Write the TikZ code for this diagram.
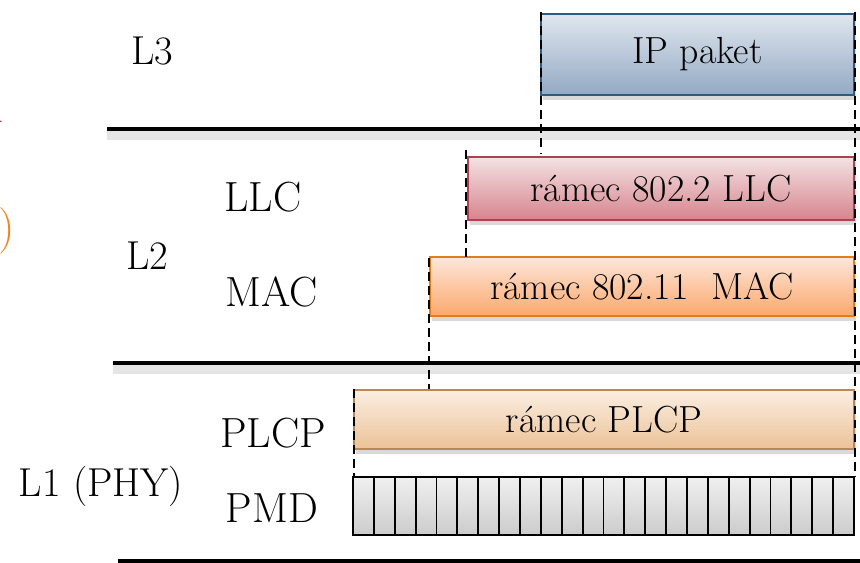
\documentclass[tikz,border=0pt]{standalone}
\usepackage{tikz}
\usetikzlibrary{shadows}
\usetikzlibrary{positioning}
\definecolor{ipTop}{HTML}{E0E6EE}
\definecolor{ipBot}{HTML}{93A9C4}
\definecolor{ipLine}{HTML}{2F5B80}
\definecolor{llcTop}{HTML}{F3E2E4}
\definecolor{llcBot}{HTML}{D6848D}
\definecolor{llcLine}{HTML}{B0404F}
\definecolor{macTop}{HTML}{FDE6DA}
\definecolor{macBot}{HTML}{FBA86C}
\definecolor{macLine}{HTML}{E57C1C}
\definecolor{plcpTop}{HTML}{FBEEE2}
\definecolor{plcpBot}{HTML}{EBC297}
\definecolor{plcpLine}{HTML}{B8875A}
\definecolor{fragRed}{HTML}{B02030}
\definecolor{fragOrange}{HTML}{F08418}
\tikzset{
    frame/.style = {rectangle, line width=1.1pt, inner sep=0pt, font=\fontsize{21.5}{24}\selectfont,
        drop shadow={opacity=0.3, shadow xshift=0.04cm, shadow yshift=-0.1cm}},
    ipbox/.style = {frame, draw=ipLine, top color=ipTop, bottom color=ipBot, minimum width=6.26cm, minimum height=1.62cm},
    llcbox/.style = {frame, draw=llcLine, top color=llcTop, bottom color=llcBot, minimum width=7.72cm, minimum height=1.26cm},
    macbox/.style = {frame, draw=macLine, top color=macTop, bottom color=macBot, minimum width=8.48cm, minimum height=1.18cm},
    plcpbox/.style = {frame, draw=plcpLine, top color=plcpTop, bottom color=plcpBot, minimum width=10cm, minimum height=1.18cm},
    cell/.style = {rectangle, line width=1.1pt, draw=black, inner sep=0pt, top color=gray!12, bottom color=gray!40,
        minimum width=0.4175cm, minimum height=1.16cm},
    layer/.style = {inner sep=0pt, font=\fontsize{23}{26}\selectfont},
    sublayer/.style = {inner sep=0pt, font=\fontsize{24}{28}\selectfont},
    border/.style = {line width=2.4pt, black},
    bordershadow/.style = {line width=5pt, black, opacity=0.1},
    guide/.style = {line width=1.1pt, black, dash pattern=on 5pt off 3pt}
}

\begin{document}
\begin{tikzpicture}[x=0.02cm, y=-0.02cm]
\useasboundingbox (0,0) rectangle (860,563);

% cut-off text at the left edge
\node[anchor=base east, inner sep=0pt, text=fragRed, font=\fontsize{26.5}{30}\selectfont] (fraga) at (4,123) {n};
\node[anchor=base east, inner sep=0pt, text=fragOrange, font=\fontsize{26.5}{30}\selectfont] (fragb) at (15,243) {)};

% layer borders
\coordinate (t0) at (107,129);
\coordinate (t1) at (860,129);
\coordinate (m0) at (113,363);
\coordinate (m1) at (860,363);
\coordinate (b0) at (118,561);
\coordinate (b1) at (860,561);
\draw[bordershadow] ([yshift=-0.13cm]t0) -- ([yshift=-0.13cm]t1);
\draw[bordershadow] ([yshift=-0.13cm]m0) -- ([yshift=-0.13cm]m1);
\draw[border] (t0) -- (t1);
\draw[border] (m0) -- (m1);
\draw[border] (b0) -- (b1);

% layer names
\node[layer] (l3) at (152,51) {L3};
\node[layer] (l2) at (147,256) {L2};
\node[layer, anchor=base] (l1) at (101,497) {L1 (PHY)};
\node[sublayer, anchor=base] (llc) at (263,212) {LLC};
\node[sublayer, anchor=base] (mac) at (272,307) {MAC};
\node[sublayer, anchor=base] (plcp) at (273,448) {PLCP};
\node[sublayer, anchor=base] (pmd) at (272,523) {PMD};

% frames
\node[ipbox] (ip) at (697.5,54.5) {IP paket};
\node[llcbox] (rllc) at (661,188.5) {rámec 802.2 LLC};
\node[macbox] (rmac) at (642,286.5) {rámec 802.11\ \ MAC};
\node[plcpbox] (rplcp) at (604,419.5) {rámec PLCP};
\foreach \i in {0,...,23}
    \node[cell] (c\i) at (353+10.44+20.875*\i,506) {};

% guides
\coordinate (g1) at (541,12);
\coordinate (g2) at (541,153);
\coordinate (g3) at (466,150);
\coordinate (g4) at (466,258);
\coordinate (g5) at (429,258);
\coordinate (g6) at (429,389);
\coordinate (g7) at (354,389);
\coordinate (g8) at (354,477);
\coordinate (g9) at (855,12);
\coordinate (g10) at (855,477);
\draw[guide] (g1) -- (g2);
\draw[guide] (g3) -- (g4);
\draw[guide] (g5) -- (g6);
\draw[guide] (g7) -- (g8);
\draw[guide] (g9) -- (g10);

\end{tikzpicture}
\end{document}
